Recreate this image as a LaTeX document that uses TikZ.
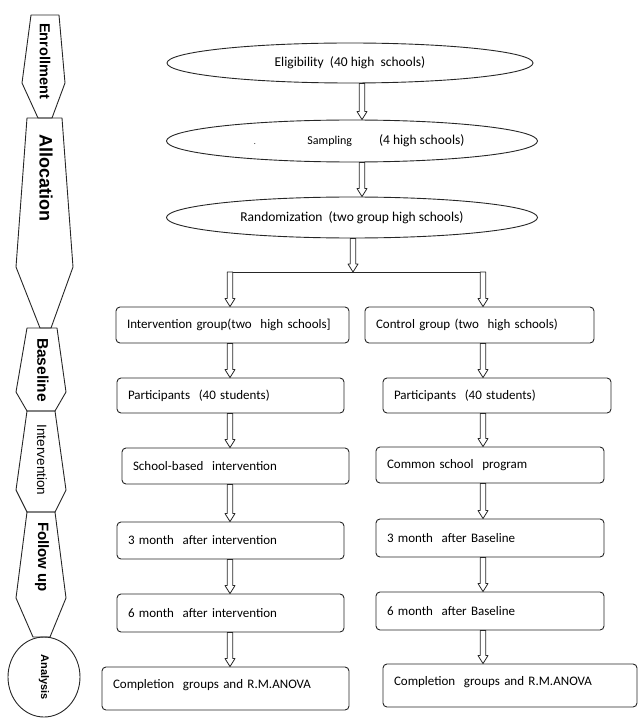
\documentclass[tikz,border=0pt]{standalone}
\usepackage{fontspec}
\setmainfont{Carlito}
\newfontfamily\headfont{Liberation Sans}
\usetikzlibrary{calc,shapes}

\begin{document}
\begin{tikzpicture}[x=1pt,y=-1pt,
  line width=0.9pt,
  box/.style={draw=black!85, rounded corners=4pt, inner xsep=11pt, inner ysep=0pt,
    align=left, font=\fontsize{13}{15}\selectfont},
  oval/.style={draw=black!85, ellipse, inner sep=0pt, font=\fontsize{13.5}{15}\selectfont},
  hollow/.style={draw=black!85, line width=0.8pt, line join=round},
  stage/.style={draw=black!85, line join=round},
  tag/.style={rotate=-90, inner sep=0pt, font=\headfont\bfseries\fontsize{#1}{#1}\selectfont}]

  \newcommand\darrow[2]{\draw[hollow] let \p1=(#1), \p2=(#2) in
    (\x1-2.8pt,\y1) -- (\x1-2.8pt,\y2+8pt) -- (\x1-5pt,\y2+8pt) -- (\x1,\y2)
    -- (\x1+5pt,\y2+8pt) -- (\x1+2.8pt,\y2+8pt) -- (\x1+2.8pt,\y1) -- cycle;}

  \useasboundingbox (0,0) rectangle (639,719);

  % stages on the left
  \draw[stage] (31,15) -- (59,15) -- (65,83) -- (52,118) -- (38,118) -- (22,83) -- cycle;
  \node[tag=14.5] (enrol) at (45,61) {Enrollment};
  \draw[stage] (27,118) -- (62,118) -- (73,267) -- (51,328) -- (40,328) -- (16,267) -- cycle;
  \node[tag=18] (alloc) at (46,178) {Allocation};
  \draw[stage] (27,328) -- (57,328) -- (66,392) -- (55,411) -- (27,411) -- (16,392) -- cycle;
  \node[tag=15.5] (base) at (43,370) {Baseline};
  \draw[stage] (27,411) -- (55,411) -- (66,490) -- (55,512) -- (27,512) -- (16,490) -- cycle;
  \node[tag=13.5, font=\headfont\fontsize{13.5}{13.5}\selectfont] (interv) at (42,460) {Intervention};
  \draw[stage] (27,512) -- (55,512) -- (66,598) -- (50,637) -- (33,637) -- (16,598) -- cycle;
  \node[tag=15] (follow) at (42,557) {Follow up};
  \node[stage, ellipse, minimum width=72pt, minimum height=80pt] (anal) at (44,677) {};
  \node[tag=11] (analtxt) at (anal) {Analysis};

  % top of the flow
  \node[oval, minimum width=366pt, minimum height=40pt] (elig) at (350,63) {Eligibility\ \ (40 high\ \ schools)};
  \node[oval, minimum width=371pt, minimum height=42pt] (samp) at (352,141)
    {\hspace{68pt}{\fontsize{12}{12}\selectfont Sampling}\hspace{27pt}(4 high schools)};
  \node[font=\fontsize{8}{8}\selectfont] (dot) at (255,144) {.};
  \node[oval, minimum width=371pt, minimum height=41pt] (rand) at (352,217.5) {Randomization\ \ (two group high schools)};

  \coordinate (mx) at (362,0);
  \darrow{elig.south -| mx}{samp.north -| mx}
  \darrow{samp.south -| mx}{rand.north -| mx}

  % split
  \coordinate (sm) at (353,272);
  \coordinate (sl) at (230,272);
  \coordinate (sr) at (483,272);
  \darrow{rand.south -| sm}{sm}
  \draw[hollow] ([xshift=2.8pt]sl) -- ([xshift=-2.8pt]sr);

  % intervention arm
  \node[box, minimum width=233pt, text width=211pt, minimum height=36pt] (ig) at (232.5,325) {Intervention group(two\ \ high schools]};
  \node[box, minimum width=227pt, text width=205pt, minimum height=35pt] (ip) at (230.5,395.5) {Participants\ \ (40 students)};
  \node[box, minimum width=227pt, text width=205pt, minimum height=36pt] (is) at (235.5,466) {School-based\ \ intervention};
  \node[box, minimum width=227pt, text width=205pt, minimum height=37pt] (i3) at (230.5,540.5) {3 month\ \ after intervention};
  \node[box, minimum width=227pt, text width=205pt, minimum height=38pt] (i6) at (230.5,613) {6 month\ \ after intervention};
  \node[box, minimum width=247pt, text width=225pt, minimum height=43pt, inner xsep=10pt, text depth=10pt] (ic) at (225.5,688.5) {Completion\ \ groups and R.M.ANOVA};

  % control arm
  \node[box, minimum width=229pt, text width=207pt, minimum height=36pt] (cg) at (479.5,325) {Control group (two\ \ high schools)};
  \node[box, minimum width=228pt, text width=206pt, minimum height=35pt] (cp) at (497,395.5) {Participants\ \ (40 students)};
  \node[box, minimum width=228pt, text width=206pt, minimum height=36pt] (cs) at (490,465) {Common school\ \ program};
  \node[box, minimum width=228pt, text width=206pt, minimum height=38pt] (c3) at (490,538) {3 month\ \ after Baseline};
  \node[box, minimum width=228pt, text width=206pt, minimum height=38pt] (c6) at (490,611) {6 month\ \ after Baseline};
  \node[box, minimum width=254pt, text width=232pt, minimum height=43pt, text depth=10pt] (cc) at (510,685.5) {Completion\ \ groups and R.M.ANOVA};

  \darrow{sl}{ig.north -| sl}
  \darrow{ig.south -| sl}{ip.north -| sl}
  \darrow{ip.south -| sl}{is.north -| sl}
  \darrow{is.south -| sl}{i3.north -| sl}
  \darrow{i3.south -| sl}{i6.north -| sl}
  \darrow{i6.south -| sl}{ic.north -| sl}

  \darrow{sr}{cg.north -| sr}
  \darrow{cg.south -| sr}{cp.north -| sr}
  \darrow{cp.south -| sr}{cs.north -| sr}
  \darrow{cs.south -| sr}{c3.north -| sr}
  \darrow{c3.south -| sr}{c6.north -| sr}
  \darrow{c6.south -| sr}{cc.north -| sr}
\end{tikzpicture}
\end{document}
